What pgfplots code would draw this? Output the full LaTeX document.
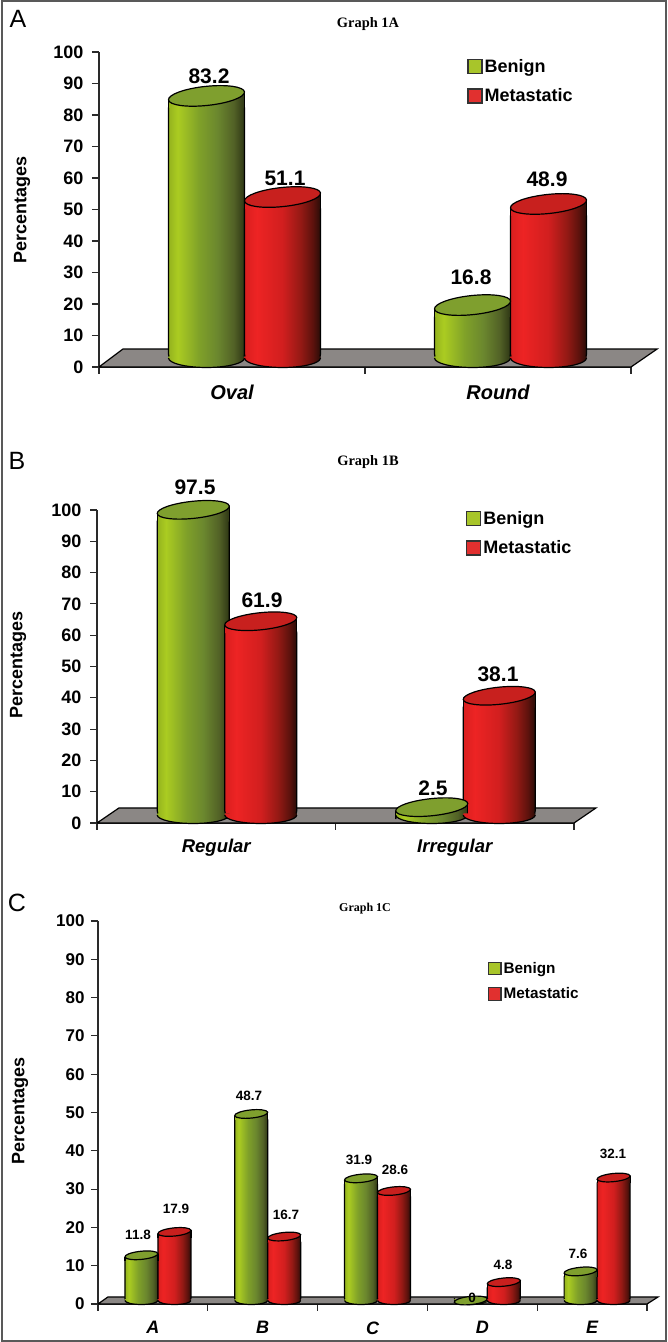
\documentclass[border=0pt]{standalone}
\usepackage{fontspec}
\setmainfont{Liberation Sans}
\newfontfamily\serifbf[BoldFont={Liberation Serif Bold}]{Liberation Serif}
\usepackage{pgfplots}
\usepackage{pgfplotstable}
\pgfplotsset{compat=1.18}

\definecolor{capg}{HTML}{7F9F2E}
\definecolor{capr}{HTML}{C8201E}
\definecolor{swatchg}{HTML}{A8C52A}
\definecolor{swatchr}{HTML}{E1302F}
\definecolor{floorgray}{HTML}{8B8785}
\definecolor{axisgray}{HTML}{2A2A2A}

% stops 25bp..75bp span the width of the path
\pgfdeclarehorizontalshading{cylg}{100bp}{
  rgb(0bp)=(.58,.70,.12); rgb(25bp)=(.58,.70,.12); rgb(31bp)=(.67,.80,.13);
  rgb(45bp)=(.50,.63,.16); rgb(57bp)=(.42,.53,.18); rgb(68bp)=(.32,.38,.15);
  rgb(75bp)=(.18,.21,.08); rgb(100bp)=(.18,.21,.08)}
\pgfdeclarehorizontalshading{cylr}{100bp}{
  rgb(0bp)=(.85,.12,.12); rgb(25bp)=(.85,.12,.12); rgb(33bp)=(.93,.14,.14);
  rgb(50bp)=(.82,.12,.12); rgb(62bp)=(.58,.10,.08); rgb(70bp)=(.36,.07,.05);
  rgb(75bp)=(.16,.05,.03); rgb(100bp)=(.16,.05,.03)}

% cylinder ends, sized per panel: \hw half width, \ev half height, \tl rise of the
% tilted top, \rc corner radius of the body, \ppu points per y unit
\def\hw{38}\def\ev{9}\def\tl{4}\def\rc{8}\def\ppu{3.15}
\newcommand{\defends}[1]{%
  \pgfdeclareplotmark{base#1}{%
    \path[draw=none,shade,shading=#1] (-\hw pt,1.5pt) -- (-\hw pt,0pt)
      arc[start angle=180,end angle=360,x radius=\hw pt,y radius=\ev pt]
      -- (\hw pt,1.5pt) -- cycle;
    \path[draw=black,line width=1.2pt] (-\hw pt,0pt)
      arc[start angle=180,end angle=360,x radius=\hw pt,y radius=\ev pt];}%
  \pgfdeclareplotmark{top#1}{%
    \pgfmathsetmacro{\yb}{min(-\tl,max(-\tl-\rc,-\val*\ppu))}%
    \path[draw=none,shade,shading=#1] (-\hw pt,\yb pt) -- (\hw pt,\yb pt)
      -- (\hw pt,\tl pt) -- (-\hw pt,-\tl pt) -- cycle;
    \path[draw=black,line width=1.2pt] (\hw pt,\yb pt) -- (\hw pt,\tl pt);
    \path[draw=black,line width=1.2pt] (-\hw pt,\yb pt) -- (-\hw pt,-\tl pt);
    \pgfsetlinewidth{1.2pt}%
    \pgfpathellipse{\pgfpointorigin}{\pgfpoint{\hw pt}{\tl pt}}{\pgfpoint{-1pt}{\ev pt}}%
    \pgfusepath{fill,stroke}}}
\defends{cylg}\defends{cylr}

% table, column, shading, cap colour, xshift, yshift, list of categories
% one \addplot per bar, so that each bar has its own shading
\newcommand{\cylinders}[7]{%
  \pgfplotsinvokeforeach{#7}{%
    \addplot[forget plot,ybar,bar shift=0pt,bar width=2*\hw pt,draw=black,line width=1.2pt,
      rounded corners=\rc pt,shade,shading=#3,xshift=#5pt,yshift=#6pt-\tl pt,
      x filter/.expression={abs(x-##1)<0.1?x:nan}]
      table[x=x,y=#2]{#1};
  }
  \addplot[forget plot,only marks,mark=base#3,xshift=#5pt,yshift=#6pt]
    table[x=x,y expr=0]{#1};
  \addplot[forget plot,only marks,scatter,scatter src=y,
    visualization depends on={rawy\as\val},
    scatter/use mapped color={fill=#4,draw=black},
    mark=top#3,xshift=#5pt,yshift=#6pt]
    table[x=x,y=#2]{#1};
}

\pgfplotsset{
  panel/.style={
    at={(#1)},anchor=origin,scale only axis,clip=false,
    axis lines*=left,axis line style={-,line width=1.3pt,color=axisgray},
    ymin=0,ymax=100,ytick distance=10,tick align=outside,major tick length=7pt,
    every tick/.style={line width=1.1pt,color=axisgray},
    /pgf/number format/assume math mode=true,
    legend cell align=left,
  },
}
\newcommand{\swatch}[2]{% colour, size
  \addlegendimage{legend image code/.code={
    \path[fill=#1,draw=black!80,line width=1.2pt] (0pt,-#2/2 pt) rectangle (#2 pt,#2/2 pt);}}}

\newcommand{\lab}[4]{\node[font=\fontsize{#1}{#1}\selectfont\bfseries,inner sep=0pt] at (#2pt,1342pt-#3pt) {#4};}

\pgfplotstableread{
x b m
0.5 83.2 51.1
1.5 16.8 48.9
}\tabA
\pgfplotstableread{
x b m
0.5 97.5 61.9
1.5 2.5 38.1
}\tabB
\pgfplotstableread{
x b m
0.5 11.8 17.9
1.5 48.7 16.7
2.5 31.9 28.6
3.5 0 4.8
4.5 7.6 32.1
}\tabC

\begin{document}
\begin{tikzpicture}[x=1pt,y=1pt]
\useasboundingbox (0,0) rectangle (667pt,1342pt);
\draw[line width=2pt,color=black!65] (2pt,1pt) rectangle (666pt,1341pt);

% Graph 1A
\def\hw{38}\def\ev{9.5}\def\tl{4}\def\rc{8}\def\ppu{3.15}
\begin{axis}[panel={99pt,975pt},width=532pt,height=315pt,
  xmin=0,xmax=2,xtick={0,1,2},xticklabels={},
  extra x ticks={0.5,1.5},extra x tick labels={Oval,Round},
  extra x tick style={major tick length=0pt,
    tick label style={font=\fontsize{20}{20}\selectfont\bfseries\itshape,yshift=-14pt}},
  yticklabel style={font=\fontsize{18}{18}\selectfont\bfseries,xshift=-5pt},
  legend style={at={(rel axis cs:0.692,0.984)},anchor=north west,draw=none,fill=none,
    inner sep=0pt,row sep=11pt,font=\fontsize{18}{18}\selectfont\bfseries},
]
\addplot[forget plot,fill=floorgray,draw=black,line width=1.2pt]
  coordinates {(0,0) (2,0) (2.098,5.7) (0.09,5.7) (0,0)};
\cylinders{\tabA}{b}{cylg}{capg}{-25.5}{9}{0.5,1.5}
\cylinders{\tabA}{m}{cylr}{capr}{50.5}{9}{0.5,1.5}
\swatch{swatchg}{14}\addlegendentry{Benign}
\swatch{swatchr}{14}\addlegendentry{Metastatic}
\end{axis}
\node[font=\fontsize{25}{25}\selectfont,inner sep=0pt] at (18pt,1342pt-19pt) {A};
\node[font=\serifbf\fontsize{14.4}{14.4}\selectfont\bfseries,inner sep=0pt] at (368pt,1342pt-24pt) {Graph 1A};
\node[rotate=90,font=\fontsize{18}{18}\selectfont\bfseries,inner sep=0pt] at (22pt,1342pt-210pt) {Percentages};
\lab{21}{209}{76}{83.2}\lab{21}{285}{178}{51.1}\lab{21}{471}{277}{16.8}\lab{21}{547}{179}{48.9}

% Graph 1B
\def\hw{36}\def\ev{8.5}\def\tl{3.8}\def\rc{8}\def\ppu{3.13}
\begin{axis}[panel={97pt,519pt},width=477pt,height=313pt,
  xmin=0,xmax=2,xtick={0,1,2},xticklabels={},
  extra x ticks={0.5,1.5},extra x tick labels={Regular,Irregular},
  extra x tick style={major tick length=0pt,
    tick label style={font=\fontsize{18.5}{18.5}\selectfont\bfseries\itshape,yshift=-13pt}},
  yticklabel style={font=\fontsize{18}{18}\selectfont\bfseries,xshift=-5pt},
  legend style={at={(rel axis cs:0.7736,1.003)},anchor=north west,draw=none,fill=none,
    inner sep=0pt,row sep=11pt,font=\fontsize{18}{18}\selectfont\bfseries},
]
\addplot[forget plot,fill=floorgray,draw=black,line width=1.2pt]
  coordinates {(0,0) (2,0) (2.092,4.8) (0.092,4.8) (0,0)};
\cylinders{\tabB}{b}{cylg}{capg}{-23}{8}{0.5,1.5}
\cylinders{\tabB}{m}{cylr}{capr}{44.5}{8}{0.5,1.5}
\swatch{swatchg}{14}\addlegendentry{Benign}
\swatch{swatchr}{14}\addlegendentry{Metastatic}
\end{axis}
\node[font=\fontsize{25}{25}\selectfont,inner sep=0pt] at (17pt,1342pt-461pt) {B};
\node[font=\serifbf\fontsize{14.4}{14.4}\selectfont\bfseries,inner sep=0pt] at (368pt,1342pt-462pt) {Graph 1B};
\node[rotate=90,font=\fontsize{18}{18}\selectfont\bfseries,inner sep=0pt] at (18pt,1342pt-665pt) {Percentages};
\lab{21}{195}{487}{97.5}\lab{21}{262}{600}{61.9}\lab{21}{433}{788}{2.5}\lab{21}{498}{674}{38.1}

% Graph 1C
\def\hw{16.5}\def\ev{4}\def\tl{1.8}\def\rc{4}\def\ppu{3.83}
\begin{axis}[panel={98pt,38pt},width=549pt,height=383pt,
  xmin=0,xmax=5,xtick={0,1,2,3,4,5},xticklabels={},
  extra x ticks={0.5,1.5,2.5,3.5,4.5},extra x tick labels={A,B,C,D,E},
  extra x tick style={major tick length=0pt,
    tick label style={font=\fontsize{18}{18}\selectfont\bfseries\itshape,yshift=-14pt}},
  yticklabel style={font=\fontsize{17}{17}\selectfont\bfseries,xshift=-3pt},
  legend style={at={(rel axis cs:0.71,0.898)},anchor=north west,draw=none,fill=none,
    inner sep=0pt,row sep=9pt,font=\fontsize{15.3}{15.3}\selectfont\bfseries},
]
\addplot[forget plot,fill=floorgray,draw=black,line width=1.2pt]
  coordinates {(0,0) (5,0) (5.1,1.83) (0.09,1.83) (0,0)};
\cylinders{\tabC}{b}{cylg}{capg}{-11.5}{3.5}{0.5,1.5,2.5,3.5,4.5}
\cylinders{\tabC}{m}{cylr}{capr}{21.5}{3.5}{0.5,1.5,2.5,3.5,4.5}
\swatch{swatchg}{12.5}\addlegendentry{Benign}
\swatch{swatchr}{12.5}\addlegendentry{Metastatic}
\end{axis}
\node[font=\fontsize{25}{25}\selectfont,inner sep=0pt] at (17pt,1342pt-903pt) {C};
\node[font=\serifbf\fontsize{12}{12}\selectfont\bfseries,inner sep=0pt] at (365pt,1342pt-909pt) {Graph 1C};
\node[rotate=90,font=\fontsize{18}{18}\selectfont\bfseries,inner sep=0pt] at (20pt,1342pt-1111pt) {Percentages};
\lab{13.5}{138}{1235}{11.8}\lab{13.5}{176}{1209}{17.9}\lab{13.5}{249}{1096}{48.7}\lab{13.5}{286}{1215}{16.7}
\lab{13.5}{359}{1160}{31.9}\lab{13.5}{395}{1170}{28.6}\lab{13.5}{472}{1298}{0}\lab{13.5}{503}{1265}{4.8}
\lab{13.5}{578}{1254}{7.6}\lab{13.5}{613}{1154}{32.1}
\end{tikzpicture}
\end{document}
